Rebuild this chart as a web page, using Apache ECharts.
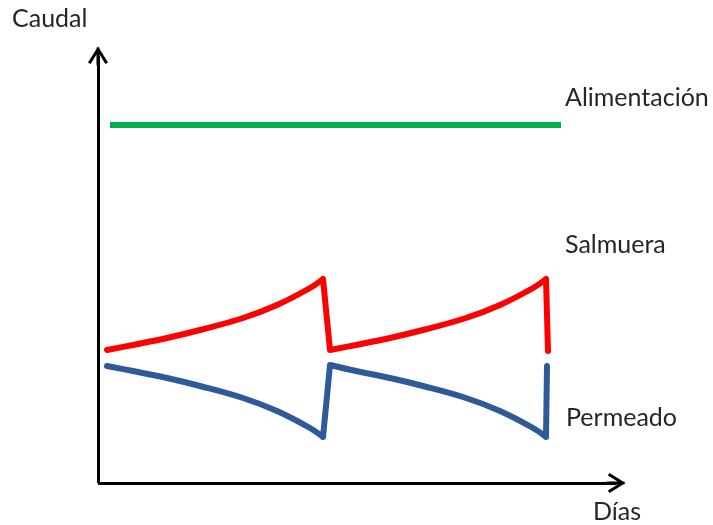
<!DOCTYPE html>
<html>
<head>
<meta charset="utf-8">
<script src="https://cdn.jsdelivr.net/npm/echarts@6/dist/echarts.min.js"></script>
<style>html,body{margin:0;padding:0;background:#fff;}#c{width:713px;height:525px;}</style>
</head>
<body>
<div id="c"></div>
<script>
// Data (arbitrary units: x = días, y = caudal); null splits a curve into smooth runs
var alimX = [12, 463];
var alimY = [358, 358];
var salX = [9, 35, 69, 102, 145, 179, 212, 225, null, 225, 232, null, 232, 258, 292, 325, 368, 402, 435, 448, null, 448, 450];
var salY = [133, 138, 145, 153, 165, 178, 195, 204, null, 204, 133, null, 133, 138, 145, 153, 165, 178, 195, 204, null, 204, 132];
var perX = [9, 35, 69, 102, 145, 179, 212, 225, null, 225, 232, null, 232, 258, 292, 325, 368, 402, 435, 448, null, 448, 449];
var perY = [117, 112, 105, 97, 85, 72, 55, 46, null, 46, 118, null, 118, 112, 105, 97, 85, 72, 55, 46, null, 46, 117];
var seriesNames = ['Alimentación', 'Salmuera', 'Permeado'];
var axisNames = ['Días', 'Caudal'];

function pairs(xs, ys) {
  return xs.map(function (x, i) { return x === null ? [null, null] : [x, ys[i]]; });
}

var arrow = 'path://M10,0 L20,16 L17.4,17.6 L10,5.5 L2.6,17.6 L0,16 Z M8.5,1 L11.5,1 L11.5,19 L8.5,19 Z';
var font = 'Lato, "Open Sans", sans-serif';
var txtColor = '#262626';

var chart = echarts.init(document.getElementById('c'), null, {renderer: 'canvas'});
var axisLine = {
  show: true,
  symbol: ['none', arrow],
  symbolSize: [20, 19],
  lineStyle: {color: '#000', width: 3, cap: 'butt'}
};
chart.setOption({
  animation: false,
  backgroundColor: '#fff',
  grid: {left: 98, right: 97, top: 56, bottom: 42},
  xAxis: {
    type: 'value', min: 0, max: 518,
    axisLine: axisLine, axisTick: {show: false}, axisLabel: {show: false}, splitLine: {show: false}
  },
  yAxis: {
    type: 'value', min: 0, max: 427,
    axisLine: axisLine, axisTick: {show: false}, axisLabel: {show: false}, splitLine: {show: false}
  },
  series: [
    {name: seriesNames[0], type: 'line', data: pairs(alimX, alimY), showSymbol: false,
     lineStyle: {color: '#00B050', width: 6, cap: 'butt'}},
    {name: seriesNames[1], type: 'line', data: pairs(salX, salY), showSymbol: false,
     smooth: 0.4, connectNulls: false,
     lineStyle: {color: '#FF0000', width: 6, cap: 'round', join: 'miter'}},
    {name: seriesNames[2], type: 'line', data: pairs(perX, perY), showSymbol: false,
     smooth: 0.4, connectNulls: false,
     lineStyle: {color: '#2E5A97', width: 6, cap: 'round', join: 'miter'}}
  ],
  graphic: [
    {type: 'text', left: 12, top: 6, style: {text: axisNames[1], font: '25px ' + font, fill: txtColor}},
    {type: 'text', left: 593, top: 499, style: {text: axisNames[0], font: '25px ' + font, fill: txtColor}},
    {type: 'text', left: 565, top: 85, style: {text: seriesNames[0], font: '25px ' + font, fill: txtColor}},
    {type: 'text', left: 565, top: 232, style: {text: seriesNames[1], font: '25px ' + font, fill: txtColor}},
    {type: 'text', left: 566, top: 405, style: {text: seriesNames[2], font: '25px ' + font, fill: txtColor}}
  ]
});
</script>
</body>
</html>
